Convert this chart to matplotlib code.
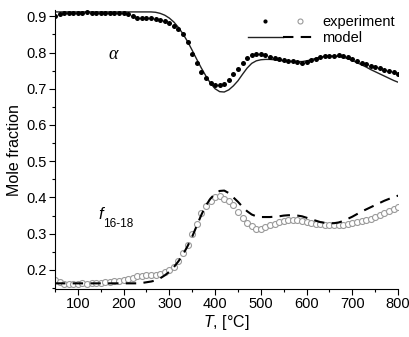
import numpy as np
import matplotlib
matplotlib.use('Agg')
import matplotlib.pyplot as plt
from matplotlib.lines import Line2D
from matplotlib.legend_handler import HandlerTuple
from matplotlib.ticker import MultipleLocator

plt.rcParams['font.family'] = ['Liberation Sans', 'DejaVu Sans']
plt.rcParams['mathtext.fontset'] = 'custom'
plt.rcParams['mathtext.it'] = 'Liberation Sans:italic'
plt.rcParams['mathtext.rm'] = 'Liberation Sans'

# temperature grid, °C
T = np.arange(50, 801, 10)

# alpha: experiment / model
alpha_exp = [
    0.902, 0.906, 0.908, 0.909, 0.910, 0.910, 0.910, 0.911, 0.910, 0.910,
    0.910, 0.909, 0.910, 0.910, 0.909, 0.908, 0.905, 0.900, 0.896, 0.894,
    0.894, 0.894, 0.893, 0.891, 0.887, 0.881, 0.874, 0.866, 0.852, 0.830,
    0.797, 0.770, 0.746, 0.729, 0.717, 0.711, 0.709, 0.713, 0.724, 0.740,
    0.755, 0.771, 0.785, 0.793, 0.797, 0.797, 0.793, 0.788, 0.785, 0.782,
    0.779, 0.777, 0.776, 0.774, 0.772, 0.774, 0.778, 0.783, 0.787, 0.789,
    0.790, 0.791, 0.792, 0.791, 0.788, 0.782, 0.776, 0.772, 0.768, 0.764,
    0.761, 0.757, 0.753, 0.749, 0.745, 0.741,
]
alpha_model = [
    0.912, 0.912, 0.912, 0.912, 0.912, 0.912, 0.912, 0.912, 0.912, 0.912,
    0.912, 0.912, 0.912, 0.912, 0.912, 0.912, 0.912, 0.912, 0.912, 0.912,
    0.912, 0.912, 0.911, 0.908, 0.903, 0.895, 0.884, 0.869, 0.851, 0.830,
    0.806, 0.781, 0.757, 0.735, 0.715, 0.700, 0.692, 0.691, 0.697, 0.708,
    0.722, 0.740, 0.757, 0.770, 0.777, 0.780, 0.781, 0.781, 0.780, 0.778,
    0.777, 0.776, 0.775, 0.775, 0.775, 0.777, 0.780, 0.784, 0.787, 0.789,
    0.790, 0.790, 0.789, 0.787, 0.783, 0.778, 0.772, 0.766, 0.760, 0.753,
    0.747, 0.741, 0.735, 0.729, 0.723, 0.718,
]

# f16-18: experiment / model
f_exp = [
    0.172, 0.166, 0.162, 0.160, 0.161, 0.162, 0.163, 0.162, 0.163, 0.163,
    0.164, 0.166, 0.168, 0.169, 0.170, 0.173, 0.176, 0.179, 0.182, 0.184,
    0.186, 0.187, 0.185, 0.188, 0.193, 0.200, 0.208, 0.225, 0.246, 0.270,
    0.298, 0.327, 0.356, 0.377, 0.391, 0.401, 0.403, 0.397, 0.390, 0.379,
    0.360, 0.344, 0.330, 0.320, 0.312, 0.312, 0.318, 0.323, 0.328, 0.332,
    0.335, 0.337, 0.338, 0.337, 0.334, 0.331, 0.330, 0.328, 0.326, 0.324,
    0.324, 0.324, 0.324, 0.325, 0.328, 0.330, 0.332, 0.334, 0.337, 0.341,
    0.346, 0.352, 0.358, 0.363, 0.369, 0.373,
]
f_model = [
    0.163, 0.163, 0.163, 0.163, 0.163, 0.163, 0.163, 0.163, 0.163, 0.163,
    0.163, 0.163, 0.163, 0.163, 0.163, 0.163, 0.163, 0.163, 0.163, 0.164,
    0.166, 0.168, 0.171, 0.177, 0.185, 0.195, 0.208, 0.224, 0.243, 0.266,
    0.292, 0.322, 0.352, 0.378, 0.397, 0.410, 0.418, 0.419, 0.412, 0.400,
    0.388, 0.374, 0.362, 0.353, 0.348, 0.346, 0.346, 0.346, 0.347, 0.348,
    0.350, 0.351, 0.351, 0.350, 0.348, 0.344, 0.340, 0.336, 0.332, 0.330,
    0.329, 0.329, 0.331, 0.335, 0.341, 0.347, 0.354, 0.361, 0.367, 0.373,
    0.379, 0.385, 0.391, 0.396, 0.401, 0.405,
]

fig = plt.figure(figsize=(4.10, 3.37), dpi=100)
ax = fig.add_axes([0.134, 0.142, 0.837, 0.828])

gray = '#9a9a9a'
ax.plot(T, f_exp, 'o', ms=4.3, mfc='white', mec=gray, mew=0.8, zorder=2)
ax.plot(T, f_model, color='black', lw=1.5, dashes=(5, 3.5), zorder=3)
ax.plot(T, alpha_model, color='#222222', lw=1.0, zorder=2)
ax.plot(T, alpha_exp, 'o', ms=3.6, color='black', mew=0, zorder=3)

ax.set_xlim(50, 800)
ax.set_ylim(0.147, 0.917)
ax.xaxis.set_major_locator(MultipleLocator(100))
ax.xaxis.set_minor_locator(MultipleLocator(50))
ax.yaxis.set_major_locator(MultipleLocator(0.1))
ax.yaxis.set_minor_locator(MultipleLocator(0.05))
ax.tick_params(which='major', direction='out', length=4, width=0.8, labelsize=10.5, pad=2)
ax.tick_params(which='minor', direction='out', length=2, width=0.8)
ax.spines['top'].set_visible(False)
ax.spines['right'].set_visible(False)

ax.set_xlabel(r'$T$, [°C]', fontsize=11.5, labelpad=1)
ax.set_ylabel('Mole fraction', fontsize=11.5, labelpad=3)

ax.text(177, 0.794, 'α', family='Liberation Serif', style='italic',
        fontsize=13, ha='center', va='center')
ax.text(150, 0.352, 'f', style='italic', fontsize=12, ha='center', va='center')
ax.text(156, 0.328, '16-18', fontsize=8.5, ha='left', va='center')

# legend
h_dot = Line2D([], [], ls='none', marker='o', ms=3.0, color='black', mew=0)
h_circ = Line2D([], [], ls='none', marker='o', ms=3.6, mfc='white', mec=gray, mew=0.8)
h_solid = Line2D([], [], color='#222222', lw=1.0)
h_dash = Line2D([], [], color='black', lw=1.5, dashes=(5, 3.5))
ax.legend([(h_dot, h_circ), (h_solid, h_dash)], ['experiment', 'model'],
          handler_map={tuple: HandlerTuple(ndivide=None, pad=0)},
          loc='upper right', bbox_to_anchor=(1.02, 1.02), frameon=False,
          fontsize=10.5, handlelength=4.8, handletextpad=0.3,
          labelspacing=0.15, borderpad=0.2)

plt.savefig('out.png', dpi=100)
plt.close()
